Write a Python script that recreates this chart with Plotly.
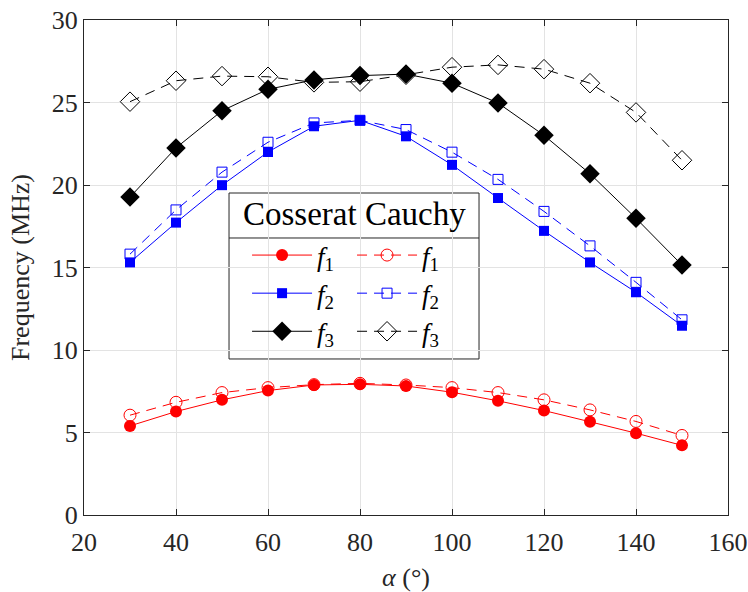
import plotly.graph_objects as go

alpha = [30, 40, 50, 60, 70, 80, 90, 100, 110, 120, 130, 140, 150]

cosserat_f1 = [5.40, 6.27, 6.98, 7.54, 7.88, 7.92, 7.82, 7.44, 6.92, 6.33, 5.65, 4.96, 4.22]
cauchy_f1 = [6.05, 6.83, 7.42, 7.72, 7.90, 7.98, 7.88, 7.72, 7.42, 6.98, 6.37, 5.67, 4.82]
cosserat_f2 = [15.31, 17.72, 19.99, 22.00, 23.56, 23.92, 22.95, 21.22, 19.21, 17.22, 15.31, 13.50, 11.47]
cauchy_f2 = [15.81, 18.49, 20.78, 22.59, 23.76, 23.92, 23.36, 21.99, 20.34, 18.40, 16.31, 14.10, 11.83]
cosserat_f3 = [19.27, 22.25, 24.50, 25.80, 26.37, 26.63, 26.72, 26.17, 24.97, 23.01, 20.68, 17.98, 15.15]
cauchy_f3 = [25.05, 26.32, 26.60, 26.56, 26.22, 26.26, 26.68, 27.14, 27.28, 27.02, 26.17, 24.40, 21.50]

x_ticks = [20, 40, 60, 80, 100, 120, 140, 160]
y_ticks = [0, 5, 10, 15, 20, 25, 30]

series_names = ["<i>f</i><sub>1</sub>", "<i>f</i><sub>2</sub>", "<i>f</i><sub>3</sub>"]
colors = ["#ff0000", "#0000ff", "#000000"]
filled_symbols = ["circle", "square", "diamond"]
open_symbols = ["circle-open", "square-open", "diamond-open"]
filled_sizes = [12, 10, 15]
open_sizes = [12, 10, 15]

FONT = "Liberation Serif, Times New Roman, serif"
AX = "#262626"

fig = go.Figure()

cauchy = [cauchy_f1, cauchy_f2, cauchy_f3]
cosserat = [cosserat_f1, cosserat_f2, cosserat_f3]

for i in range(3):
    fig.add_trace(go.Scatter(
        x=alpha, y=cauchy[i], mode="lines+markers", name=series_names[i],
        line=dict(color=colors[i], width=1, dash="10px,7px"),
        marker=dict(symbol=open_symbols[i], size=open_sizes[i], color=colors[i],
                    line=dict(color=colors[i], width=1)),
        legend="legend2",
    ))
for i in range(3):
    fig.add_trace(go.Scatter(
        x=alpha, y=cosserat[i], mode="lines+markers", name=series_names[i],
        line=dict(color=colors[i], width=1),
        marker=dict(symbol=filled_symbols[i], size=filled_sizes[i], color=colors[i],
                    line=dict(width=0)),
        legend="legend",
    ))

# legend frame and header
fig.add_shape(type="rect", xref="paper", yref="paper",
              x0=0.2252, x1=0.6134, y0=0.3152, y1=0.6505,
              line=dict(color=AX, width=1), fillcolor="white", layer="between")
fig.add_shape(type="line", xref="paper", yref="paper",
              x0=0.2252, x1=0.6134, y0=0.5596, y1=0.5596,
              line=dict(color=AX, width=1), layer="between")
fig.add_annotation(text="Cosserat Cauchy", xref="paper", yref="paper",
                   x=0.4193, y=0.6085, showarrow=False,
                   font=dict(family=FONT, size=33, color="black"),
                   xanchor="center", yanchor="middle")

legend_common = dict(bgcolor="rgba(0,0,0,0)", borderwidth=0, itemwidth=60,
                     font=dict(family=FONT, size=27, color="black"),
                     xanchor="left", yanchor="top", tracegroupgap=0,
                     itemclick=False, itemdoubleclick=False)

fig.update_layout(
    width=748, height=592,
    margin=dict(l=84, r=20, t=20, b=77, autoexpand=False),
    plot_bgcolor="white", paper_bgcolor="white",
    font=dict(family=FONT, color=AX),
    showlegend=True,
    legend=dict(x=0.2532, y=0.5737, **legend_common),
    legend2=dict(x=0.4162, y=0.5737, **legend_common),
    xaxis=dict(range=[20, 160], tickvals=x_ticks, ticktext=[str(v) for v in x_ticks],
               ticks="inside", ticklen=6, tickcolor=AX, showline=True, linecolor=AX,
               linewidth=1, mirror="ticks", showgrid=True, gridcolor="#e3e3e3",
               zeroline=False, tickfont=dict(size=26, color=AX), ticklabelstandoff=4,
               automargin=False,
               title=dict(text="<i>α</i> (°)", font=dict(size=26, color=AX), standoff=14)),
    yaxis=dict(range=[0, 30], tickvals=y_ticks, ticktext=[str(v) for v in y_ticks],
               ticks="inside", ticklen=6, tickcolor=AX, showline=True, linecolor=AX,
               linewidth=1, mirror="ticks", showgrid=True, gridcolor="#e3e3e3",
               zeroline=False, tickfont=dict(size=26, color=AX), automargin=False,
               title=dict(text="Frequency (MHz)", font=dict(size=26, color=AX), standoff=14)),
)

fig.write_html("out.html", config={"displayModeBar": False},
               post_script="document.body.style.margin='0px';")
